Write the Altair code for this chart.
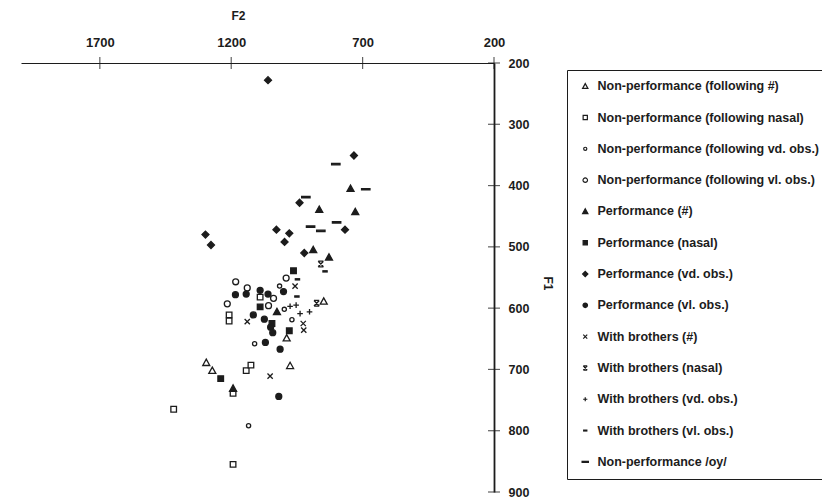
import altair as alt
import pandas as pd

SERIES = [
    "Non-performance (following #)",
    "Non-performance (following nasal)",
    "Non-performance (following vd. obs.)",
    "Non-performance (following vl. obs.)",
    "Performance (#)",
    "Performance (nasal)",
    "Performance (vd. obs.)",
    "Performance (vl. obs.)",
    "With brothers (#)",
    "With brothers (nasal)",
    "With brothers (vd. obs.)",
    "With brothers (vl. obs.)",
    "Non-performance /oy/",
]

# F2 / F1 values (Hz), one pair of lists per series
np_hash_f2 = [1295, 1272, 976, 989, 848]
np_hash_f1 = [689, 702, 694, 649, 589]
np_nasal_f2 = [1208, 1208, 1090, 1143, 1125, 1193, 1419, 1193]
np_nasal_f1 = [611, 621, 582, 702, 693, 739, 765, 855]
np_vd_f2 = [1111, 1134, 969, 1016, 998]
np_vd_f1 = [658, 792, 619, 564, 602]
np_vl_f2 = [1183, 1139, 1215, 1039, 1058, 991]
np_vl_f1 = [557, 567, 593, 584, 596, 551]
p_hash_f2 = [746, 865, 728, 888, 828, 1026, 1193]
p_hash_f1 = [405, 439, 443, 505, 517, 606, 731]
p_nasal_f2 = [963, 1045, 979, 1240, 1090]
p_nasal_f1 = [539, 625, 637, 715, 598]
p_vd_f2 = [1060, 733, 940, 1028, 979, 767, 1298, 1277, 997, 922]
p_vd_f1 = [228, 351, 428, 472, 478, 472, 480, 497, 492, 510]
p_vl_f2 = [1184, 1143, 1090, 1060, 1001, 1116, 1074, 1050, 1042, 1070, 1014, 1019]
p_vl_f1 = [578, 577, 571, 577, 573, 611, 618, 631, 640, 656, 667, 744]
wb_hash_f2 = [1052, 926, 924, 1139, 957]
wb_hash_f1 = [711, 625, 636, 622, 564]
wb_nasal_f2 = [859, 875]
wb_nasal_f1 = [528, 592]
wb_vd_f2 = [976, 953, 938, 902]
wb_vd_f1 = [597, 595, 609, 606]
wb_vl_f2 = [843, 948, 950]
wb_vl_f1 = [540, 553, 581]
oy_f2 = [802, 688, 916, 898, 859, 799]
oy_f1 = [365, 406, 419, 467, 474, 460]

F2_TICKS = [1700, 1200, 700, 200]
F1_TICKS = [200, 300, 400, 500, 600, 700, 800, 900]

pairs = [
    (np_hash_f2, np_hash_f1), (np_nasal_f2, np_nasal_f1), (np_vd_f2, np_vd_f1),
    (np_vl_f2, np_vl_f1), (p_hash_f2, p_hash_f1), (p_nasal_f2, p_nasal_f1),
    (p_vd_f2, p_vd_f1), (p_vl_f2, p_vl_f1), (wb_hash_f2, wb_hash_f1),
    (wb_nasal_f2, wb_nasal_f1), (wb_vd_f2, wb_vd_f1), (wb_vl_f2, wb_vl_f1),
    (oy_f2, oy_f1),
]
rows = []
for name, (f2s, f1s) in zip(SERIES, pairs):
    for a, b in zip(f2s, f1s):
        rows.append({"series": name, "F2": a, "F1": b})
df = pd.DataFrame(rows)

ink = "#1c1c1c"
SHAPES = [
    "M0,-1L1,0.8L-1,0.8Z",
    "M-0.8,-0.8L0.8,-0.8L0.8,0.8L-0.8,0.8Z",
    "M0.6,0A0.6,0.6,0,1,1,-0.6,0A0.6,0.6,0,1,1,0.6,0Z",
    "M0.85,0A0.85,0.85,0,1,1,-0.85,0A0.85,0.85,0,1,1,0.85,0Z",
    "M0,-1L1,0.8L-1,0.8Z",
    "M-0.8,-0.8L0.8,-0.8L0.8,0.8L-0.8,0.8Z",
    "M0,-1L1,0L0,1L-1,0Z",
    "M0.85,0A0.85,0.85,0,1,1,-0.85,0A0.85,0.85,0,1,1,0.85,0Z",
    "M-0.75,-0.75L0.75,0.75M-0.75,0.75L0.75,-0.75",
    "M-0.75,-0.8L0.75,-0.8M-0.75,0.8L0.75,0.8M-0.75,-0.8L0.75,0.8M0.75,-0.8L-0.75,0.8",
    "M-0.8,0L0.8,0M0,-0.8L0,0.8",
    "M-0.6,-0.17L0.6,-0.17L0.6,0.17L-0.6,0.17Z",
    "M-1.2,-0.2L1.2,-0.2L1.2,0.2L-1.2,0.2Z",
]
FILLS = ["white", "white", "white", "white", ink, ink, ink, ink,
         "transparent", "transparent", "transparent", ink, ink]
STROKES = [ink] * len(SERIES)

FONT = "Liberation Sans"
xscale = alt.Scale(domain=[200, 2000], reverse=True, nice=False, zero=False)
yscale = alt.Scale(domain=[200, 900], reverse=True, nice=False, zero=False)
xaxis = alt.Axis(orient="top", values=F2_TICKS, format="d", ticks=False, grid=False,
                 domainColor=ink, domainWidth=1.2, labelFont=FONT, labelFontSize=13,
                 labelFontWeight="bold", labelColor=ink, labelPadding=14,
                 labelFlush=False, labelOverlap=False, title="F2", titleX=217,
                 titleY=-48, titleBaseline="middle", titleFont=FONT, titleFontSize=12,
                 titleFontWeight="bold", titleColor=ink)
yaxis = alt.Axis(orient="right", values=F1_TICKS, format="d", ticks=False, grid=False,
                 domainColor=ink, domainWidth=1.8, labelFont=FONT, labelFontSize=12.5,
                 labelFontWeight="bold", labelColor=ink, labelPadding=14,
                 labelFlush=False, labelOverlap=False, labelBaseline="middle",
                 title="F1", titleAngle=90, titleX=46, titleY=220, titleFont=FONT,
                 titleFontSize=12, titleFontWeight="bold", titleColor=ink)

legend = alt.Legend(orient="none", legendX=546, legendY=7, padding=10,
                    strokeColor=ink, fillColor="white", labelFont=FONT,
                    labelFontSize=12.5, labelFontWeight="bold", labelColor=ink,
                    labelLimit=500, rowPadding=18.3, symbolSize=28,
                    symbolStrokeWidth=1.2, symbolOffset=2, labelOffset=6)

xt = pd.DataFrame({"F2": F2_TICKS, "F1": [200] * len(F2_TICKS)})
yt = pd.DataFrame({"F2": [200] * len(F1_TICKS), "F1": F1_TICKS})

ticks_x = alt.Chart(xt).mark_tick(orient="vertical", size=12, thickness=1.2, color=ink).encode(
    x=alt.X("F2:Q", scale=xscale, axis=xaxis), y=alt.Y("F1:Q", scale=yscale, axis=yaxis))
ticks_y = alt.Chart(yt).mark_tick(orient="horizontal", size=12, thickness=1.2, color=ink).encode(
    x=alt.X("F2:Q", scale=xscale, axis=xaxis), y=alt.Y("F1:Q", scale=yscale, axis=yaxis))

points = alt.Chart(df).mark_point(filled=True, size=49, strokeWidth=1.3,
                                  opacity=1).encode(
    x=alt.X("F2:Q", scale=xscale, axis=xaxis),
    y=alt.Y("F1:Q", scale=yscale, axis=yaxis),
    shape=alt.Shape("series:N", title=None, scale=alt.Scale(domain=SERIES, range=SHAPES),
                    legend=legend),
    fill=alt.Fill("series:N", title=None, scale=alt.Scale(domain=SERIES, range=FILLS),
                  legend=legend),
    stroke=alt.Stroke("series:N", title=None, scale=alt.Scale(domain=SERIES, range=STROKES),
                      legend=legend),
)

chart = alt.layer(ticks_x, ticks_y, points).properties(
    width=473, height=429, autosize="none",
    padding={"left": 13, "top": 55, "right": 328, "bottom": 6},
    background="white",
).configure_view(stroke=None)

chart.save("out.html", embed_options={"renderer": "svg", "actions": False})
